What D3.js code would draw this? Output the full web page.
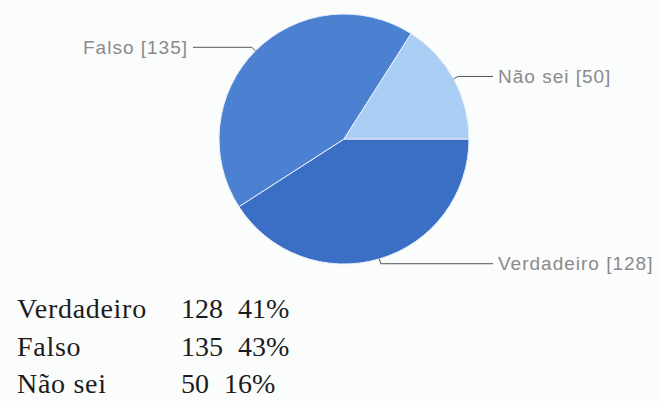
<!DOCTYPE html>
<html>
<head>
<meta charset="utf-8">
<script src="https://cdn.jsdelivr.net/npm/d3@7"></script>
<style>
  html, body { margin: 0; padding: 0; background: #fbfcfc; }
  svg { display: block; }
</style>
</head>
<body>
<svg id="chart" width="659" height="401"></svg>
<script>
// Survey answers
const categories = ["Verdadeiro", "Falso", "Não sei"];
const values = [128, 135, 50];
const colors = ["#3b6fc6", "#4c80d1", "#a9cdf3"];

const width = 659, height = 401;
const cx = 344, cy = 139, radius = 125;

const svg = d3.select("#chart");
const total = d3.sum(values);
const data = categories.map((c, i) => ({ name: c, value: values[i], color: colors[i] }));

// Slices start at 3 o'clock and run clockwise
const pie = d3.pie().value(d => d.value).sort(null)
  .startAngle(Math.PI / 2).endAngle(Math.PI / 2 + 2 * Math.PI);
const arcs = pie(data);
const arc = d3.arc().innerRadius(0).outerRadius(radius);

const g = svg.append("g").attr("transform", `translate(${cx},${cy})`);
g.selectAll("path.slice").data(arcs).join("path")
  .attr("class", "slice")
  .attr("d", arc)
  .attr("fill", d => d.data.color)
  .attr("stroke", "#e8f0fb")
  .attr("stroke-width", 1);

// Leader lines and slice labels
const leftTextEnd = 188, rightTextStart = 498;
const labels = svg.append("g");
arcs.forEach(a => {
  const mid = (a.startAngle + a.endAngle) / 2;
  const ex = cx + radius * Math.sin(mid), ey = cy - radius * Math.cos(mid);
  const r2 = radius + 5;
  const bx = cx + r2 * Math.sin(mid), by = cy - r2 * Math.cos(mid);
  const right = Math.sin(mid) > 0;
  const hx = right ? rightTextStart - 5 : leftTextEnd + 5;
  labels.append("polyline")
    .attr("points", `${ex},${ey} ${bx},${by} ${hx},${by}`)
    .attr("fill", "none")
    .attr("stroke", "#555")
    .attr("stroke-width", 1);
  labels.append("text")
    .attr("x", right ? rightTextStart : leftTextEnd)
    .attr("y", by)
    .attr("dy", "0.35em")
    .attr("text-anchor", right ? "start" : "end")
    .attr("font-family", "'Liberation Sans', Arial, sans-serif")
    .attr("font-size", 19)
    .attr("letter-spacing", 1)
    .attr("fill", "#8a8a8a")
    .text(`${a.data.name} [${a.data.value}]`);
});

// Summary table below the pie
const rowY = d3.scaleBand().domain(categories).range([294, 407]);
const table = svg.append("g")
  .attr("font-family", "'Liberation Serif', 'Times New Roman', serif")
  .attr("font-size", 28)
  .attr("fill", "#1c1c1c");
data.forEach(d => {
  const y = rowY(d.name) + 24;
  table.append("text").attr("x", 17).attr("y", y)
    .attr("letter-spacing", 0.7).text(d.name);
  const num = table.append("text").attr("x", 181).attr("y", y).text(d.value);
  const w = num.node().getComputedTextLength();
  table.append("text").attr("x", 181 + w + 15).attr("y", y)
    .text(Math.round(d.value / total * 100) + "%");
});
</script>
</body>
</html>
